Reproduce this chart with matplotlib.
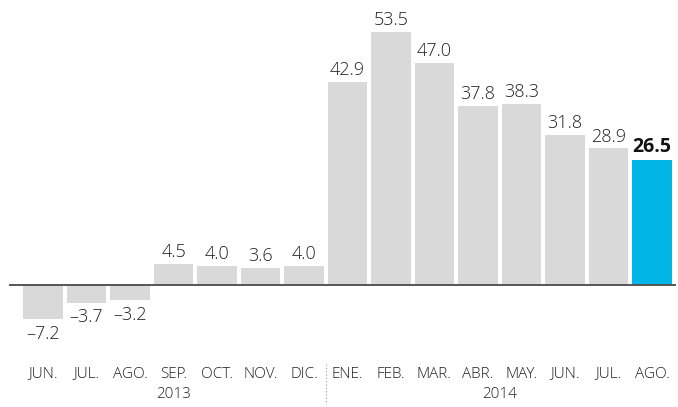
import matplotlib
matplotlib.use("Agg")
import matplotlib.pyplot as plt

months = ["JUN.", "JUL.", "AGO.", "SEP.", "OCT.", "NOV.", "DIC.",
          "ENE.", "FEB.", "MAR.", "ABR.", "MAY.", "JUN.", "JUL.", "AGO."]
values = [-7.2, -3.7, -3.2, 4.5, 4.0, 3.6, 4.0,
          42.9, 53.5, 47.0, 37.8, 38.3, 31.8, 28.9, 26.5]
years = ["2013", "2014"]

plt.rcParams['font.family'] = ['Open Sans', 'DejaVu Sans']

fig = plt.figure(figsize=(6.78, 4.07), dpi=100)
ax = fig.add_axes([0, 0, 1, 1])
ax.set_axis_off()

# pixel mapping: x px = 43 + 43.5*i ; y px = 285 - 4.73*v
ax.set_xlim((0 - 43) / 43.5, (678 - 43) / 43.5)
ax.set_ylim((285 - 407) / 4.73, (285 - 0) / 4.73)

n = len(values)
x = list(range(n))
colors = ["#d9d9d9"] * (n - 1) + ["#00b4e6"]
ax.bar(x, values, width=0.9, color=colors, zorder=2)

# zero line
ax.plot([(10 - 43) / 43.5, (675 - 43) / 43.5], [0, 0], color="#555555", lw=1.4, zorder=3)

text_color = "#222222"
for i, v in enumerate(values):
    label = f"{v:.1f}".replace("-", "\u2013")
    if i == n - 1:
        ax.annotate(label, (i, v), xytext=(0, 2), textcoords="offset points",
                    ha="center", va="bottom", fontsize=14, fontweight="bold",
                    color="#111111")
    elif v >= 0:
        ax.annotate(label, (i, v), xytext=(0, 2), textcoords="offset points",
                    ha="center", va="bottom", fontsize=13, fontweight="light",
                    color=text_color)
    else:
        ax.annotate(label, (i, v), xytext=(0, -4), textcoords="offset points",
                    ha="center", va="top", fontsize=13, fontweight="light",
                    color=text_color)

month_y = (285 - 374) / 4.73
year_y = (285 - 395) / 4.73
for i, m in enumerate(months):
    ax.text(i, month_y, m, ha="center", va="center", fontsize=11,
            fontweight="light", color=text_color)

ax.text(3, year_y, years[0], ha="center", va="center", fontsize=11,
        fontweight="light", color=text_color)
ax.text(10.5, year_y, years[1], ha="center", va="center", fontsize=11,
        fontweight="light", color=text_color)

# dotted separator between DIC and ENE
ax.plot([6.5, 6.5], [(285 - 364) / 4.73, (285 - 402) / 4.73], color="#999999",
        lw=0.8, ls=(0, (1, 2)), zorder=3)

fig.savefig("out.png", dpi=100)
